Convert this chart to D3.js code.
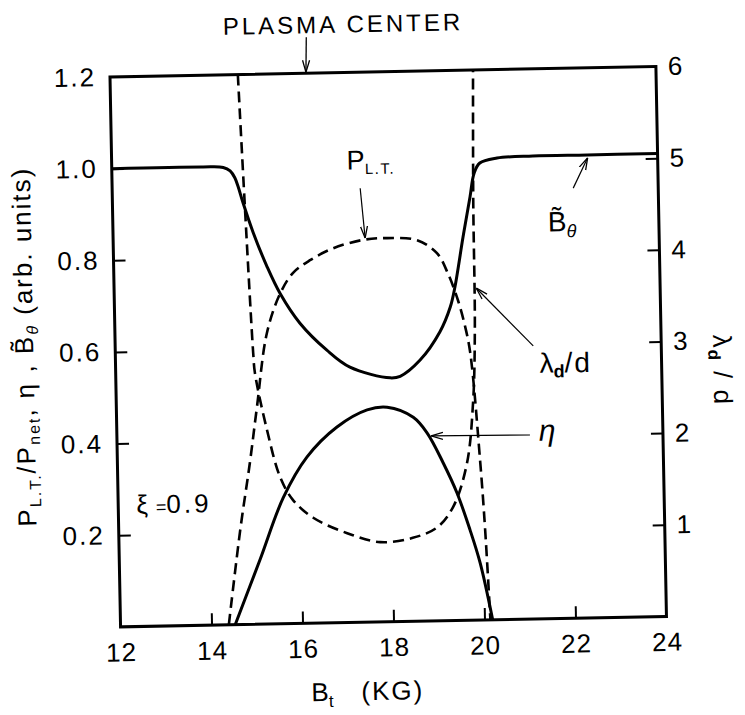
<!DOCTYPE html>
<html><head><meta charset="utf-8">
<script src="https://cdn.jsdelivr.net/npm/d3@7"></script>
<style>body{margin:0;background:#fff}</style>
</head><body>
<svg id="chart" width="745" height="715"></svg>
<script>
// ---- data ----
const xTicks = [12, 14, 16, 18, 20, 22, 24];
const leftTicks = [0.2, 0.4, 0.6, 0.8, 1.0, 1.2];
const rightTicks = [1, 2, 3, 4, 5, 6];

// B-theta (solid, left axis)
const bthetaX = [12, 14.0, 14.45, 14.6, 14.7, 14.77, 14.87, 15.08, 15.37, 15.65, 16.07, 16.65, 17.15, 18.03, 18.25, 18.69, 19.14, 19.38, 19.49, 19.69, 19.86, 19.96, 20.09, 20.47, 21.26, 22.45, 24];
const bthetaY = [1.0, 1.0, 0.998, 0.99, 0.975, 0.955, 0.92, 0.855, 0.78, 0.72, 0.655, 0.595, 0.557, 0.532, 0.535, 0.569, 0.63, 0.684, 0.727, 0.836, 0.923, 0.975, 0.997, 1.007, 1.01, 1.01, 1.01];

// eta (solid, left axis)
const etaX = [14.52, 15.09, 15.63, 16.17, 16.84, 17.51, 17.95, 18.52, 18.82, 19.16, 19.45, 19.72, 19.93, 20.18];
const etaY = [0, 0.14, 0.275, 0.363, 0.427, 0.463, 0.468, 0.445, 0.41, 0.344, 0.278, 0.197, 0.124, 0];

// P_L.T./P_net (dashed, left axis)
const pltX = [14.38, 14.67, 14.91, 15.09, 15.34, 15.65, 15.94, 16.32, 16.83, 17.49, 18.02, 18.68, 19.11, 19.34, 19.55, 19.7, 19.8, 19.97, 20.05, 20.13];
const pltY = [0, 0.206, 0.352, 0.474, 0.635, 0.721, 0.765, 0.792, 0.817, 0.834, 0.837, 0.831, 0.802, 0.758, 0.699, 0.64, 0.583, 0.349, 0.202, 0];

// lambda_d / d (dashed, right axis)
const lamX = [14.81, 15.03, 15.06, 15.3, 15.57, 15.84, 16.28, 17.02, 17.74, 18.46, 19.0, 19.36, 19.68, 19.84, 19.91, 19.93, 19.98];
const lamY = [6, 2.96, 2.74, 2.12, 1.6, 1.35, 1.15, 0.975, 0.87, 0.91, 1.02, 1.24, 1.71, 2.37, 3.16, 4.58, 6];

// ---- drawing ----
const W = 546, H = 550;
const FONT = '"Liberation Sans", Arial, sans-serif';
const svg = d3.select('#chart');
svg.append('rect').attr('width', 745).attr('height', 715).attr('fill', '#fff');

const defs = svg.append('defs');
defs.append('marker').attr('id', 'ah')
  .attr('viewBox', '0 0 12 10').attr('refX', 12).attr('refY', 5)
  .attr('markerWidth', 12).attr('markerHeight', 10)
  .attr('markerUnits', 'userSpaceOnUse').attr('orient', 'auto')
  .append('path').attr('d', 'M0,1.5 L12,5 L0,8.5')
  .attr('fill', 'none').attr('stroke', '#000').attr('stroke-width', 1.3);

const g = svg.append('g').attr('transform', 'translate(110,77) rotate(-1.1)');

const x = d3.scaleLinear().domain([12, 24]).range([0, W]);
const yL = d3.scaleLinear().domain([0, 1.2]).range([H, 0]);
const yR = d3.scaleLinear().domain([0, 6]).range([H, 0]);

function styleAxis(sel, edgeVals, spacing) {
  sel.select('.domain').remove();
  sel.selectAll('.tick line').attr('stroke', '#000').attr('stroke-width', 2)
    .filter(d => edgeVals.includes(d)).remove();
  sel.selectAll('.tick text').attr('font-family', FONT).attr('font-size', 26)
    .attr('letter-spacing', spacing).attr('fill', '#000');
}

g.append('g').attr('transform', `translate(0,${H})`)
  .call(d3.axisBottom(x).tickValues(xTicks).tickSizeInner(-12).tickSizeOuter(0).tickPadding(16).tickFormat(d3.format('d')))
  .call(s => styleAxis(s, [12, 24], 1));

g.append('g')
  .call(d3.axisLeft(yL).tickValues(leftTicks).tickSizeInner(-12).tickSizeOuter(0).tickPadding(14).tickFormat(d3.format('.1f')))
  .call(s => styleAxis(s, [1.2], 2));

g.append('g').attr('transform', `translate(${W},0)`)
  .call(d3.axisRight(yR).tickValues(rightTicks).tickSizeInner(-12).tickSizeOuter(0).tickPadding(12).tickFormat(d3.format('d')))
  .call(s => styleAxis(s, [6], 0));

g.append('rect').attr('width', W).attr('height', H)
  .attr('fill', 'none').attr('stroke', '#000').attr('stroke-width', 3);

function path(xs, ys, ys2) {
  return d3.line().x(i => x(xs[i])).y(i => ys2(ys[i]))
    .curve(d3.curveCatmullRom.alpha(0.5))(d3.range(xs.length));
}

g.append('path').attr('d', path(bthetaX, bthetaY, yL))
  .attr('fill', 'none').attr('stroke', '#000').attr('stroke-width', 3);
g.append('path').attr('d', path(etaX, etaY, yL))
  .attr('fill', 'none').attr('stroke', '#000').attr('stroke-width', 3);
g.append('path').attr('d', path(pltX, pltY, yL))
  .attr('fill', 'none').attr('stroke', '#000').attr('stroke-width', 2.6).attr('stroke-dasharray', '11,6');
g.append('path').attr('d', path(lamX, lamY, yR))
  .attr('fill', 'none').attr('stroke', '#000').attr('stroke-width', 2.6).attr('stroke-dasharray', '11,6');

// ---- text ----
function txt(xp, yp, size, anchor) {
  return g.append('text').attr('x', xp).attr('y', yp)
    .attr('font-family', FONT).attr('font-size', size)
    .attr('text-anchor', anchor || 'start').attr('fill', '#000');
}

// top annotation
txt(234, -40, 24, 'middle').attr('letter-spacing', 3).text('PLASMA CENTER');
g.append('line').attr('x1', 197).attr('y1', -36).attr('x2', 196).attr('y2', -1)
  .attr('stroke', '#000').attr('stroke-width', 1.3).attr('marker-end', 'url(#ah)');

// P_L.T.
const tP = txt(235, 97, 27);
tP.append('tspan').text('P');
tP.append('tspan').attr('font-size', 15).attr('dy', 5).attr('letter-spacing', 1.5).text('L.T.');
g.append('line').attr('x1', 248).attr('y1', 116).attr('x2', 252).attr('y2', 166)
  .attr('stroke', '#000').attr('stroke-width', 1.2).attr('marker-end', 'url(#ah)');

// B-theta
const tB = txt(435, 163, 28);
tB.append('tspan').text('B\u0303');
tB.append('tspan').attr('font-size', 18).attr('dy', 6).attr('font-style', 'italic').text('\u03b8');
g.append('line').attr('x1', 461).attr('y1', 120).attr('x2', 476).attr('y2', 90)
  .attr('stroke', '#000').attr('stroke-width', 1.2).attr('marker-end', 'url(#ah)');

// lambda_d/d
const tLam = txt(424, 304, 28);
tLam.append('tspan').text('\u03bb');
tLam.append('tspan').attr('font-size', 18).attr('font-weight', 'bold').attr('dy', 5).text('d');
tLam.append('tspan').attr('dy', -5).attr('letter-spacing', 2).text('/d');
g.append('line').attr('x1', 418).attr('y1', 277).attr('x2', 362).attr('y2', 218)
  .attr('stroke', '#000').attr('stroke-width', 1.2).attr('marker-end', 'url(#ah)');

// eta
txt(422, 372, 30).attr('font-style', 'italic').text('\u03b7');
g.append('line').attr('x1', 413).attr('y1', 366).attr('x2', 314).attr('y2', 365)
  .attr('stroke', '#000').attr('stroke-width', 1.2).attr('marker-end', 'url(#ah)');

// xi
const tXi = txt(18, 437, 26);
tXi.append('tspan').text('\u03be');
tXi.append('tspan').attr('dx', 8).attr('font-size', 18).text('=');
tXi.append('tspan').attr('letter-spacing', 3).text('0.9');

// x title
const tX = txt(246, 628, 26, 'middle');
tX.append('tspan').text('B');
tX.append('tspan').attr('font-size', 17).attr('dy', 6).text('t');
tX.append('tspan').attr('dy', -6).attr('dx', 28).attr('letter-spacing', 2).text('(KG)');

// left title
const tY = g.append('text').attr('transform', 'translate(-82,268) rotate(-90)')
  .attr('font-family', FONT).attr('font-size', 26).attr('letter-spacing', 2)
  .attr('text-anchor', 'middle').attr('fill', '#000');
tY.append('tspan').text('P');
tY.append('tspan').attr('font-size', 16).attr('dy', 5).text('L.T.');
tY.append('tspan').attr('dy', -5).text('/P');
tY.append('tspan').attr('font-size', 16).attr('dy', 5).text('net');
tY.append('tspan').attr('dy', -5).text(', \u03b7 , B\u0303');
tY.append('tspan').attr('font-size', 16).attr('dy', 5).attr('font-style', 'italic').text('\u03b8');
tY.append('tspan').attr('dy', -5).text(' (arb. units)');

// right title
const tR = g.append('text').attr('transform', 'translate(598,305) rotate(90)')
  .attr('font-family', FONT).attr('font-size', 26).attr('letter-spacing', 2)
  .attr('text-anchor', 'middle').attr('fill', '#000');
tR.append('tspan').text('\u03bb');
tR.append('tspan').attr('font-size', 17).attr('font-weight', 'bold').attr('dy', 5).text('d');
tR.append('tspan').attr('dy', -5).text(' / d');
</script>
</body></html>
